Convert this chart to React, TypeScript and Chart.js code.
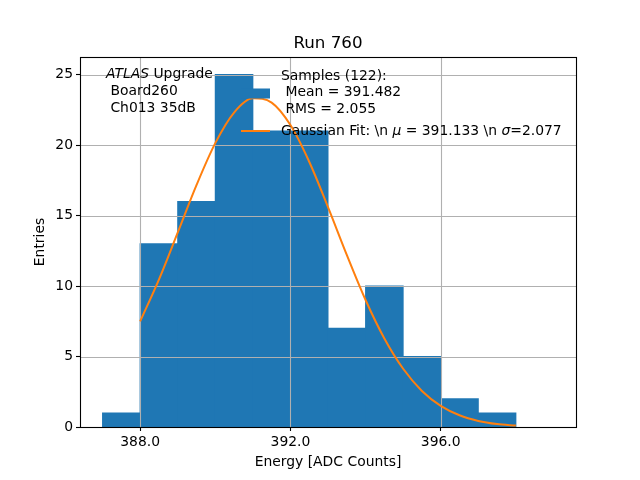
import React, { useEffect, useRef } from "react";
import { Chart, registerables } from "chart.js";

Chart.register(...registerables);

const binCenters = [387.5, 388.5, 389.5, 390.5, 391.5, 392.5, 393.5, 394.5, 395.5, 396.5, 397.5];
const binCounts = [1, 13, 16, 25, 21, 21, 7, 10, 5, 2, 1];
const fitX = [388, 388.5, 389, 389.5, 390, 390.5, 391, 391.5, 392, 392.5, 393, 393.5, 394, 394.5, 395, 395.5, 396, 396.5, 397, 397.5, 398];
const fitY = [7.49, 10.46, 13.79, 17.16, 20.14, 22.31, 23.32, 23.01, 21.42, 18.82, 15.6, 12.21, 9.01, 6.28, 4.13, 2.56, 1.5, 0.83, 0.43, 0.21, 0.1];
const xTicks = [388, 392, 396];
const yTicks = [0, 5, 10, 15, 20, 25];

const FONT = "DejaVu Sans";

const overlay = {
  id: "overlay",
  beforeDatasetDraw(chart: any, args: any) {
    if (args.index !== 0) return;
    const { ctx, chartArea, scales } = chart;
    ctx.save();
    ctx.strokeStyle = "#b0b0b0";
    ctx.lineWidth = 1.1;
    xTicks.forEach((v) => {
      const x = Math.round(scales.x.getPixelForValue(v)) + 0.5;
      ctx.beginPath();
      ctx.moveTo(x, chartArea.top);
      ctx.lineTo(x, chartArea.bottom);
      ctx.stroke();
    });
    yTicks.forEach((v) => {
      const y = Math.round(scales.y.getPixelForValue(v)) + 0.5;
      ctx.beginPath();
      ctx.moveTo(chartArea.left, y);
      ctx.lineTo(chartArea.right, y);
      ctx.stroke();
    });
    ctx.restore();
  },
  afterDraw(chart: any) {
    const { ctx, chartArea } = chart;
    ctx.save();
    ctx.strokeStyle = "#000";
    ctx.lineWidth = 1.1;
    ctx.strokeRect(
      Math.round(chartArea.left) + 0.5,
      Math.round(chartArea.top) + 0.5,
      Math.round(chartArea.right - chartArea.left),
      Math.round(chartArea.bottom - chartArea.top)
    );
    ctx.fillStyle = "#000";
    ctx.font = `16.7px ${FONT}`;
    ctx.textAlign = "center";
    ctx.textBaseline = "middle";
    ctx.fillText("Run 760", (chartArea.left + chartArea.right) / 2, 44);
    ctx.font = `13.9px ${FONT}`;
    ctx.fillText("Energy [ADC Counts]", (chartArea.left + chartArea.right) / 2, 462);
    ctx.save();
    ctx.translate(40, (chartArea.top + chartArea.bottom) / 2);
    ctx.rotate(-Math.PI / 2);
    ctx.fillText("Entries", 0, 0);
    ctx.restore();

    ctx.textAlign = "left";
    const ax = 106;
    ctx.font = `italic 13.9px ${FONT}`;
    ctx.fillText("ATLAS", ax, 74);
    const w = ctx.measureText("ATLAS").width;
    ctx.font = `13.9px ${FONT}`;
    ctx.fillText(" Upgrade", ax + w, 74);
    ctx.fillText(" Board260", ax, 91);
    ctx.fillText(" Ch013 35dB", ax, 108);

    const lx = 241;
    ctx.fillStyle = "#1f77b4";
    ctx.fillRect(lx, 88.5, 29, 10);
    ctx.strokeStyle = "#ff7f0e";
    ctx.lineWidth = 2;
    ctx.beginPath();
    ctx.moveTo(lx, 131);
    ctx.lineTo(lx + 29, 131);
    ctx.stroke();
    ctx.fillStyle = "#000";
    const tx = 281;
    ctx.fillText("Samples (122):", tx, 76);
    ctx.fillText(" Mean = 391.482", tx, 92.5);
    ctx.fillText(" RMS = 2.055", tx, 109);
    const parts: [string, boolean][] = [
      ["Gaussian Fit: \\n ", false],
      ["\u03bc", true],
      [" = 391.133 \\n ", false],
      ["\u03c3", true],
      ["=2.077", false],
    ];
    let px = tx;
    parts.forEach(([s, it]) => {
      ctx.font = `${it ? "italic " : ""}13.9px ${FONT}`;
      ctx.fillText(s, px, 131);
      px += ctx.measureText(s).width;
    });
    ctx.restore();
  },
};

export default function App() {
  const ref = useRef<HTMLCanvasElement | null>(null);
  useEffect(() => {
    if (!ref.current) return;
    const tickFont = { family: FONT, size: 13.9 };
    const chart = new Chart(ref.current, {
      type: "bar",
      data: {
        datasets: [
          {
            type: "line",
            label: "fit",
            data: fitX.map((x, i) => ({ x, y: fitY[i] })),
            borderColor: "#ff7f0e",
            borderWidth: 2,
            pointRadius: 0,
            fill: false,
            cubicInterpolationMode: "monotone",
          } as any,
          {
            type: "bar",
            label: "hist",
            data: binCenters.map((x, i) => ({ x, y: binCounts[i] })),
            backgroundColor: "#1f77b4",
            borderWidth: 0,
            barPercentage: 1,
            categoryPercentage: 1,
            grouped: false,
            inflateAmount: 0.5,
          } as any,
        ],
      },
      options: {
        animation: false,
        responsive: false,
        maintainAspectRatio: false,
        events: [],
        layout: { padding: { left: 0, right: 64, top: 57, bottom: 0 } },
        plugins: { legend: { display: false }, tooltip: { enabled: false }, title: { display: false } },
        scales: {
          x: {
            type: "linear",
            offset: false,
            min: 386.4,
            max: 399.6,
            afterBuildTicks: (s: any) => {
              s.ticks = xTicks.map((v) => ({ value: v }));
            },
            afterFit: (s: any) => {
              s.height = 53;
            },
            ticks: {
              callback: (v: any) => Number(v).toFixed(1),
              font: tickFont,
              color: "#000",
              padding: 3,
              maxRotation: 0,
              autoSkip: false,
            },
            grid: { offset: false, drawOnChartArea: false, tickLength: 4, tickColor: "#000", tickWidth: 1.1 },
            border: { display: false },
          },
          y: {
            type: "linear",
            min: 0,
            max: 26.25,
            afterBuildTicks: (s: any) => {
              s.ticks = yTicks.map((v) => ({ value: v }));
            },
            afterFit: (s: any) => {
              s.width = 80;
            },
            ticks: {
              font: tickFont,
              color: "#000",
              padding: 3,
              autoSkip: false,
            },
            grid: { drawOnChartArea: false, tickLength: 4, tickColor: "#000", tickWidth: 1.1 },
            border: { display: false },
          },
        },
      } as any,
      plugins: [overlay],
    });
    return () => chart.destroy();
  }, []);
  return (
    <div style={{ position: "fixed", left: 0, top: 0, width: 640, height: 480, background: "#fff" }}>
      <canvas ref={ref} width={640} height={480} style={{ width: 640, height: 480 }} />
    </div>
  );
}
